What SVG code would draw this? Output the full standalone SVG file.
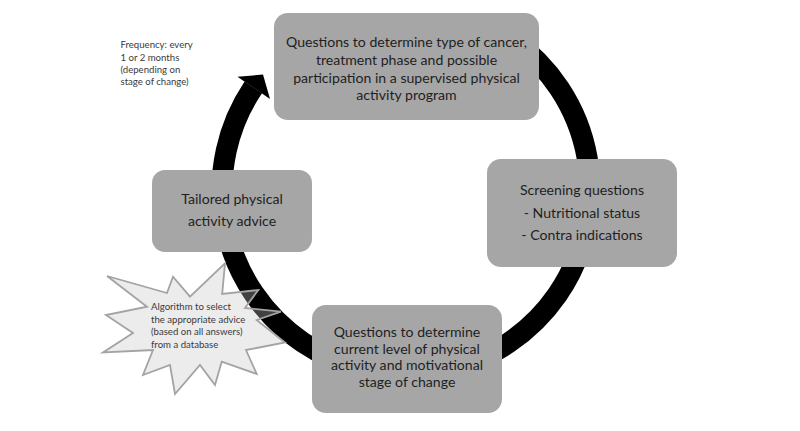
<svg xmlns="http://www.w3.org/2000/svg" width="800" height="431" viewBox="0 0 800 431">
<style>
.box{fill:#a6a6a6;}
.t{font-family:Lato,"Open Sans","Liberation Sans",sans-serif;font-size:14.1px;fill:#1e1e1e;text-anchor:middle;}
.s{font-family:Lato,"Open Sans","Liberation Sans",sans-serif;font-size:9.6px;fill:#3a3a3a;}
.ring{fill:none;stroke:#000;stroke-width:21;}
</style>
<rect width="800" height="431" fill="#fff"/>
<g id="connectors">
<path class="ring" d="M 511.5 39.3 A 184 184 0 1 1 253.3 87.4"/>
<polygon points="237.5,76.8 263,74.5 270,99" fill="#000"/>
</g>
<g id="note-frequency">
<text class="s" x="120.5" y="48.3">Frequency: every</text>
<text class="s" x="120.5" y="60.7">1 or 2 months</text>
<text class="s" x="120.5" y="72.9">(depending on</text>
<text class="s" x="120.5" y="85.2">stage of change)</text>
</g>
<g id="node-top">
<rect class="box" x="274" y="13" width="265" height="107" rx="14"/>
<text class="t" x="406.5" y="47">Questions to determine type of cancer,</text>
<text class="t" x="406.5" y="64.8">treatment phase and possible</text>
<text class="t" x="406.5" y="82.6">participation in a supervised physical</text>
<text class="t" x="406.5" y="100">activity program</text>
</g>
<g id="node-right">
<rect class="box" x="487" y="159" width="190" height="108" rx="14"/>
<text class="t" x="582" y="195">Screening questions</text>
<text class="t" x="582" y="217.5">- Nutritional status</text>
<text class="t" x="582" y="240">- Contra indications</text>
</g>
<g id="node-bottom">
<rect class="box" x="312" y="305" width="190" height="108" rx="14"/>
<text class="t" x="407" y="337">Questions to determine</text>
<text class="t" x="407" y="353.7">current level of physical</text>
<text class="t" x="407" y="370.4">activity and motivational</text>
<text class="t" x="407" y="387">stage of change</text>
</g>
<g id="node-left">
<rect class="box" x="152" y="170" width="160" height="82" rx="13"/>
<text class="t" x="232" y="204">Tailored physical</text>
<text class="t" x="232" y="226">activity advice</text>
</g>
<g id="node-algorithm">
<polygon points="225,263.3 222.2,294 258.3,290 245,308 281,311.7 256.7,320 285,342.5 246,350 256.7,374 221.7,361.7 215,385 200,365 175,394 170,365 143,375 153,350 103,352.5 133,333 106,315 147,306.7 107,276 167,293 173,276.7 190,296.7" fill="#c6c6c6" fill-opacity="0.33" stroke="#a3a3a3" stroke-width="1.8" stroke-linejoin="miter"/>
<text class="s" x="151" y="309.5">Algorithm to select</text>
<text class="s" x="151" y="322.5">the appropriate advice</text>
<text class="s" x="151" y="335">(based on all answers)</text>
<text class="s" x="151" y="347.5">from a database</text>
</g>
</svg>
